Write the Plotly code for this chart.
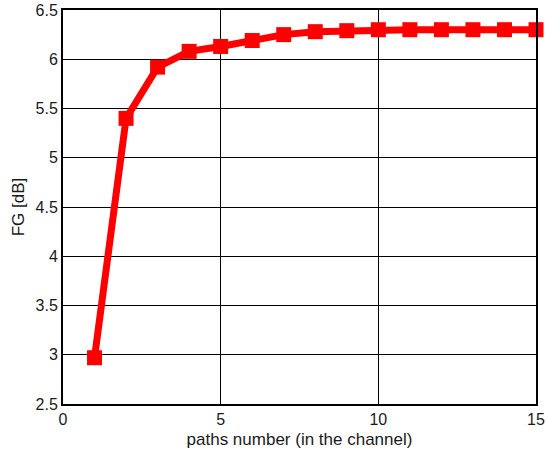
import plotly.graph_objects as go

# Number of propagation paths in the channel
paths = [1, 2, 3, 4, 5, 6, 7, 8, 9, 10, 11, 12, 13, 14, 15]
# Resulting FG in dB
fg_db = [2.97, 5.40, 5.92, 6.08, 6.13, 6.19, 6.25, 6.28, 6.29, 6.30, 6.30, 6.30, 6.30, 6.30, 6.30]

x_ticks = [0, 5, 10, 15]
y_ticks = [2.5, 3, 3.5, 4, 4.5, 5, 5.5, 6, 6.5]

FONT = "Liberation Sans, Arial, sans-serif"

fig = go.Figure()
fig.add_trace(go.Scatter(
    x=paths, y=fg_db, mode="lines+markers",
    line=dict(color="#ff0000", width=7),
    marker=dict(symbol="square", size=15, color="#ff0000"),
    showlegend=False, cliponaxis=False,
))

axis_common = dict(
    showline=True, linecolor="black", linewidth=2, mirror="ticks",
    ticks="inside", ticklen=5, tickcolor="black", tickwidth=1,
    showgrid=True, gridcolor="black", gridwidth=1, zeroline=False,
    automargin=False,
    tickfont=dict(family=FONT, size=16, color="#1a1a1a"),
)

fig.update_xaxes(
    range=[0, 15], tickvals=x_ticks, ticktext=[str(v) for v in x_ticks],
    title=dict(text="paths number (in the channel)", standoff=6,
               font=dict(family=FONT, size=17, color="#1a1a1a")),
    **axis_common,
)
fig.update_yaxes(
    range=[2.5, 6.5], tickvals=y_ticks, ticktext=[f"{v:g}" for v in y_ticks],
    title=dict(text="FG [dB]", standoff=7,
               font=dict(family=FONT, size=17, color="#1a1a1a")),
    **axis_common,
)

fig.update_layout(
    width=546, height=455,
    margin=dict(l=63, r=10, t=10, b=51),
    paper_bgcolor="white", plot_bgcolor="white",
)

fig.write_html("out.html")
